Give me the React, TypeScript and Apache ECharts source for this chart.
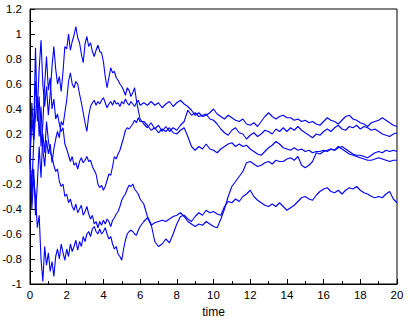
import React, { useEffect, useRef } from "react";
import * as echarts from "echarts";

// sample times: 0..6 every 0.1, then 6.2..20 every 0.2
const times: number[] = [];
for (let i = 0; i <= 60; i++) times.push(Math.round(i) / 10);
for (let k = 1; k <= 70; k++) times.push(Math.round((6 + 0.2 * k) * 10) / 10);

const xTicks = [0, 2, 4, 6, 8, 10, 12, 14, 16, 18, 20];
const yTicks = [-1, -0.8, -0.6, -0.4, -0.2, 0, 0.2, 0.4, 0.6, 0.8, 1, 1.2];

const pathA = [
  0, 0.32, 0.15, 0.62, 0.4, 0.72, 0.95, 0.6, 0.42, 0.58,
  0.35, 0.52, 0.74, 0.9, 0.72, 0.6, 0.66, 0.54, 0.7, 0.9,
  0.88, 1.0, 0.87, 0.94, 0.99, 1.06, 0.97, 0.93, 0.84, 0.77,
  0.92, 0.98, 0.9, 0.93, 0.86, 0.82, 0.87, 0.91, 0.86, 0.85,
  0.78, 0.66, 0.57, 0.65, 0.73, 0.69, 0.7, 0.65, 0.63, 0.6,
  0.58, 0.55, 0.51, 0.57, 0.55, 0.5, 0.53, 0.57, 0.47, 0.39,
  0.32,
  0.28, 0.25, 0.29, 0.24, 0.27, 0.22, 0.26, 0.22, 0.25, 0.23,
  0.27, 0.3, 0.39, 0.35, 0.37, 0.34, 0.35, 0.36, 0.32, 0.31,
  0.28, 0.24, 0.21, 0.19, 0.23, 0.25, 0.21, 0.2, 0.16, 0.19,
  0.21, 0.18, 0.2, 0.23, 0.22, 0.2, 0.24, 0.22, 0.25, 0.22,
  0.25, 0.23, 0.26, 0.23, 0.21, 0.19, 0.17, 0.2, 0.19, 0.22,
  0.24, 0.22, 0.25, 0.27, 0.24, 0.23, 0.26, 0.25, 0.27, 0.24,
  0.26, 0.25, 0.23, 0.24, 0.22, 0.2, 0.19, 0.18, 0.2, 0.21,
];

const pathB = [
  0, -0.22, 0.12, 0.35, 0.5, 0.18, 0.42, 0.08, -0.06, 0.15,
  0.04, 0.12, -0.03, 0.08, 0.16, 0.22, 0.17, 0.3, 0.27, 0.37,
  0.47, 0.62, 0.69, 0.6, 0.57, 0.62, 0.6, 0.52, 0.45, 0.37,
  0.29, 0.22, 0.35, 0.42, 0.45, 0.47, 0.43, 0.46, 0.44, 0.47,
  0.49, 0.45, 0.41, 0.44, 0.46, 0.43, 0.47, 0.44, 0.45, 0.42,
  0.46, 0.44, 0.48, 0.45, 0.43, 0.46, 0.44, 0.42, 0.45, 0.47,
  0.43,
  0.45, 0.43, 0.46, 0.43, 0.45, 0.41, 0.44, 0.46, 0.42, 0.45,
  0.47, 0.44, 0.42, 0.39, 0.35, 0.37, 0.34, 0.35, 0.37, 0.4,
  0.36, 0.34, 0.32, 0.35, 0.33, 0.31, 0.3, 0.32, 0.28, 0.27,
  0.29, 0.26, 0.3, 0.34, 0.37, 0.34, 0.32, 0.34, 0.35, 0.33,
  0.33, 0.31, 0.32, 0.3, 0.31, 0.29, 0.3, 0.28, 0.27, 0.3,
  0.33, 0.31, 0.3, 0.28, 0.31, 0.34, 0.35, 0.32, 0.31, 0.29,
  0.28, 0.26, 0.29, 0.3, 0.31, 0.33, 0.31, 0.29, 0.27, 0.26,
];

const pathC = [
  0, 0.45, 0.2, 0.89, 0.3, 0.5, 0.1, 0.28, 0.6, 0.82,
  0.55, 0.65, 0.4, 0.48, 0.32, 0.36, 0.28, 0.22, 0.25, 0.12,
  0.08, 0.03, -0.02, 0.02, -0.05, -0.03, -0.08, -0.02, 0.01, -0.03,
  -0.01, 0.02, -0.02, -0.01, -0.06, -0.09, -0.12, -0.2, -0.23, -0.21,
  -0.25, -0.22, -0.17, -0.12, -0.13, -0.06, 0.02, 0.0, 0.04, 0.07,
  0.12, 0.17, 0.23, 0.25, 0.24, 0.26, 0.28, 0.31, 0.29, 0.33,
  0.3,
  0.3, 0.27, 0.23, 0.25, 0.21, 0.24, 0.22, 0.25, 0.21, 0.2,
  0.23, 0.25, 0.18, 0.1, 0.07, 0.1, 0.08, 0.12, 0.08, 0.07,
  0.05, 0.08, 0.1, 0.12, 0.13, 0.1, 0.12, 0.1, 0.11, 0.08,
  0.06, 0.04, 0.03, 0.06, 0.09, 0.11, 0.14, 0.12, 0.09, 0.08,
  0.07, 0.09, 0.07, 0.08, 0.06, 0.07, 0.05, 0.06, 0.06, 0.07,
  0.06, 0.08, 0.07, 0.09, 0.1, 0.08, 0.06, 0.04, 0.03, 0.03,
  0.02, 0.01, 0.03, 0.05, 0.06, 0.05, 0.07, 0.06, 0.07, 0.06,
];

const pathD = [
  0, -0.3, -0.08, -0.45, -0.2, 0.1, -0.15, 0.2, 0.05, 0.3,
  0.15, 0.05, 0.02, -0.05, -0.1, -0.08, -0.18, -0.22, -0.2, -0.3,
  -0.28, -0.35, -0.32, -0.38, -0.41, -0.36, -0.43, -0.4, -0.37, -0.45,
  -0.42, -0.38, -0.44, -0.48, -0.45, -0.52, -0.5, -0.55, -0.5, -0.53,
  -0.49, -0.52, -0.48, -0.5, -0.54, -0.49, -0.47, -0.44, -0.42, -0.38,
  -0.33, -0.3, -0.28, -0.24, -0.21, -0.22, -0.2, -0.24, -0.26, -0.28,
  -0.32,
  -0.36, -0.46, -0.52, -0.66, -0.7, -0.68, -0.64, -0.67, -0.6, -0.52,
  -0.46, -0.45, -0.48, -0.5, -0.46, -0.43, -0.45, -0.41, -0.43, -0.42,
  -0.44, -0.45, -0.38, -0.34, -0.35, -0.32, -0.34, -0.3, -0.28, -0.25,
  -0.3, -0.33, -0.35, -0.37, -0.38, -0.36, -0.38, -0.35, -0.38, -0.41,
  -0.39, -0.37, -0.34, -0.31, -0.3, -0.32, -0.33, -0.29, -0.26, -0.24,
  -0.23, -0.26, -0.27, -0.25, -0.28, -0.25, -0.23, -0.24, -0.22, -0.25,
  -0.27, -0.28, -0.3, -0.31, -0.3, -0.31, -0.28, -0.26, -0.32, -0.35,
];

const pathE = [
  0, -0.4, -0.15, -0.3, -0.55, -0.45, -0.8, -0.98, -0.7, -0.85,
  -0.75, -0.9, -0.82, -0.94, -0.78, -0.72, -0.8, -0.68, -0.75, -0.81,
  -0.72, -0.78, -0.68, -0.74, -0.7, -0.65, -0.73, -0.66, -0.7, -0.62,
  -0.66, -0.6, -0.58, -0.62, -0.56, -0.54, -0.58, -0.6, -0.56, -0.6,
  -0.58, -0.55, -0.6, -0.64, -0.62, -0.68, -0.72, -0.7, -0.76, -0.78,
  -0.81, -0.72, -0.65, -0.6, -0.58, -0.57, -0.58, -0.6, -0.61, -0.57,
  -0.54,
  -0.5, -0.47, -0.53, -0.51, -0.5, -0.49, -0.5, -0.48, -0.46, -0.45,
  -0.43, -0.46, -0.5, -0.52, -0.54, -0.52, -0.53, -0.5, -0.52, -0.54,
  -0.55, -0.48, -0.4, -0.3, -0.22, -0.18, -0.14, -0.1, -0.03, -0.02,
  -0.04, -0.06, -0.05, -0.03, -0.02, -0.04, -0.01, -0.02, -0.02, 0.0,
  0.01, -0.01, 0.02, -0.05, -0.07, -0.05, -0.02, 0.05, 0.04, 0.06,
  0.07, 0.08, 0.07, 0.1, 0.08, 0.06, 0.04, 0.03, 0.02, 0.01,
  0.0, -0.01, -0.01, 0.0, 0.01, 0.0, -0.01, -0.02, -0.01, -0.01,
];

const paths = [pathA, pathB, pathC, pathD, pathE];

const FONT = "'Liberation Sans', Arial, sans-serif";

export default function App() {
  const ref = useRef<HTMLDivElement>(null);
  useEffect(() => {
    document.body.style.margin = "0";
    const chart = echarts.init(ref.current!, null, { renderer: "svg" });
    const axisCommon = {
      type: "value" as const,
      axisLine: { show: true, onZero: false, lineStyle: { color: "#000", width: 1 } },
      axisTick: { show: true, inside: true, length: 5, lineStyle: { color: "#000" } },
      minorTick: { show: true, splitNumber: 2, length: 3, lineStyle: { color: "#000" } },
      splitLine: { show: false },
      minorSplitLine: { show: false },
    };
    chart.setOption({
      animation: false,
      grid: {
        left: 30,
        right: 13,
        top: 9,
        bottom: 36,
        show: true,
        borderColor: "#000",
        borderWidth: 1,
        containLabel: false,
        outerBoundsMode: "none",
      },
      xAxis: {
        ...axisCommon,
        min: xTicks[0],
        max: xTicks[xTicks.length - 1],
        interval: xTicks[1] - xTicks[0],
        name: "time",
        nameLocation: "middle",
        nameGap: 22,
        nameTextStyle: { fontFamily: FONT, fontSize: 12, color: "#000" },
        axisLabel: { color: "#000", fontFamily: FONT, fontSize: 11.5, margin: 5 },
      },
      yAxis: {
        ...axisCommon,
        min: yTicks[0],
        max: yTicks[yTicks.length - 1],
        interval: 0.2,
        axisLabel: {
          color: "#000",
          fontFamily: FONT,
          fontSize: 11.5,
          margin: 8,
          formatter: (v: number) => String(Math.round(v * 10) / 10),
        },
      },
      series: paths.map((p) => ({
        type: "line",
        data: p.map((v, i) => [times[i], v]),
        symbol: "none",
        lineStyle: { color: "#0000ff", width: 1.1 },
      })),
    });
    return () => chart.dispose();
  }, []);
  return <div ref={ref} style={{ width: 410, height: 320 }} />;
}
